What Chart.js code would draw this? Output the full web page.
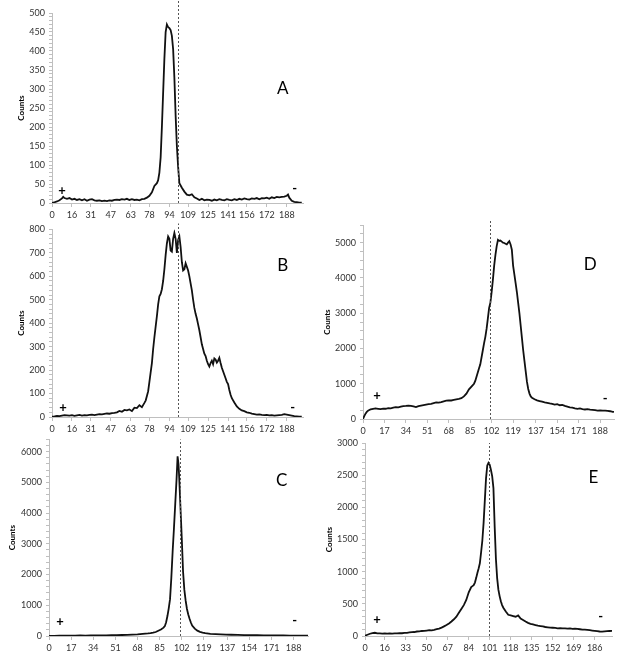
<!DOCTYPE html>
<html>
<head>
<meta charset="utf-8">
<script src="https://cdn.jsdelivr.net/npm/chart.js@4.4.0/dist/chart.umd.min.js"></script>
<style>
  body { margin: 0; background: #fff; }
  #fig { position: relative; width: 624px; height: 662px; }
  canvas { position: absolute; }
</style>
</head>
<body>
<div id="fig">
  <canvas id="chartA" width="310" height="222" style="left:0;top:0"></canvas>
  <canvas id="chartB" width="310" height="222" style="left:0;top:220px"></canvas>
  <canvas id="chartC" width="310" height="232" style="left:0;top:430px"></canvas>
  <canvas id="chartD" width="314" height="222" style="left:310px;top:215px"></canvas>
  <canvas id="chartE" width="314" height="232" style="left:310px;top:430px"></canvas>
</div>
<script>
// profiles as [position, counts]
const profileA = [[0,0],[2,2],[4,4],[6,7],[8,12],[9,16],[10,13],[12,11],[14,13],[16,9],[18,11],[20,8],[22,10],[24,7],[26,10],[28,6],[30,9],[32,10],[34,7],[36,6],[38,7],[40,5],[42,6],[44,5],[46,7],[48,6],[50,8],[52,9],[54,8],[56,10],[58,9],[60,11],[62,8],[64,10],[66,8],[68,9],[70,7],[72,10],[74,11],[76,14],[78,19],[80,28],[82,45],[84,52],[85,60],[86,80],[87,120],[88,200],[89,290],[90,380],[91,450],[92,470],[93,463],[94,460],[95,455],[96,440],[97,405],[98,330],[99,230],[100,150],[101,95],[102,52],[103,46],[104,40],[106,30],[108,22],[110,20],[112,23],[114,15],[116,12],[118,8],[120,11],[122,7],[124,9],[126,8],[128,6],[130,9],[132,7],[134,10],[136,8],[138,7],[140,10],[142,8],[144,7],[146,10],[148,8],[150,11],[152,9],[154,12],[156,10],[158,9],[160,12],[162,11],[164,13],[166,10],[168,13],[170,12],[172,14],[174,11],[176,15],[178,13],[180,16],[182,15],[184,16],[186,17],[188,19],[189,22],[190,14],[192,6],[194,3],[196,2],[198,1],[200,1]];

const profileB = [[0,2],[2,3],[4,5],[6,4],[8,6],[10,8],[12,7],[14,6],[16,8],[18,5],[20,7],[22,9],[24,6],[26,8],[28,7],[30,9],[32,10],[34,8],[36,10],[38,12],[40,11],[42,13],[44,15],[46,14],[48,17],[50,18],[52,20],[54,26],[56,22],[58,30],[60,28],[62,32],[64,25],[66,40],[68,38],[70,50],[72,42],[74,60],[75,70],[76,90],[77,110],[78,150],[79,190],[80,230],[81,290],[82,340],[83,385],[84,430],[85,480],[86,515],[87,525],[88,545],[89,580],[90,630],[91,690],[92,740],[93,770],[94,760],[95,710],[96,705],[97,760],[98,785],[99,760],[100,700],[101,755],[102,770],[103,725],[104,660],[105,625],[106,630],[107,655],[108,640],[109,625],[110,600],[111,570],[112,540],[113,500],[114,465],[115,440],[116,420],[117,395],[118,370],[119,340],[120,310],[121,290],[122,270],[123,260],[124,240],[125,225],[126,215],[127,230],[128,240],[129,225],[130,250],[131,245],[132,232],[133,240],[134,252],[135,230],[136,210],[137,195],[138,180],[139,165],[140,150],[141,140],[142,115],[143,95],[144,80],[146,62],[148,45],[150,35],[152,28],[154,25],[156,20],[158,18],[160,14],[162,12],[164,10],[166,11],[168,9],[170,8],[172,9],[174,7],[176,8],[178,6],[180,7],[182,8],[184,9],[186,12],[188,10],[190,8],[192,6],[194,4],[196,3],[198,2],[200,2]];

const profileC = [[0,0],[4,5],[8,10],[12,12],[16,15],[20,14],[24,16],[28,15],[32,18],[36,17],[40,20],[44,22],[48,25],[52,28],[56,32],[60,38],[64,45],[68,55],[72,70],[76,85],[78,95],[80,110],[82,130],[84,170],[86,210],[88,270],[89,320],[90,450],[91,650],[92,900],[93,1200],[94,1900],[95,2750],[96,3500],[97,4300],[98,5100],[98.8,5850],[99.5,5600],[100,5200],[101,4200],[102,3200],[103,2100],[104,1500],[105,1150],[106,880],[107,700],[108,560],[109,440],[110,340],[112,240],[114,175],[116,135],[118,110],[120,90],[124,70],[128,60],[132,52],[136,45],[140,40],[145,35],[150,30],[155,28],[160,25],[165,22],[170,20],[175,18],[180,16],[185,15],[190,14],[195,12],[199,10]];

const profileD = [[0,0],[1,80],[2,150],[3,200],[4,235],[5,255],[6,270],[8,285],[10,300],[12,290],[14,280],[16,295],[18,290],[20,310],[22,300],[24,320],[26,335],[28,330],[30,350],[32,365],[34,370],[36,380],[38,375],[40,360],[42,340],[44,365],[46,380],[48,395],[50,410],[52,420],[54,430],[56,450],[58,470],[60,465],[62,480],[64,500],[66,520],[68,530],[70,525],[72,540],[74,555],[76,570],[78,590],[80,640],[82,720],[84,840],[86,920],[88,1000],[89,1080],[90,1200],[91,1320],[92,1440],[93,1550],[94,1750],[95,1950],[96,2150],[97,2330],[98,2560],[99,2850],[100,3150],[101,3300],[102,3600],[103,3950],[104,4350],[105,4650],[106,4900],[107,5080],[108,5050],[109,5060],[110,5030],[111,5000],[112,4990],[113,4970],[114,4950],[115,5000],[116,5040],[117,4950],[118,4800],[119,4350],[120,4100],[121,3850],[122,3600],[123,3300],[124,3000],[125,2650],[126,2300],[127,1950],[128,1650],[129,1350],[130,1050],[131,850],[132,720],[133,640],[134,600],[136,560],[138,530],[140,510],[142,490],[144,470],[146,460],[148,440],[150,430],[152,410],[154,420],[156,390],[158,400],[160,370],[162,350],[164,330],[166,320],[168,300],[170,290],[172,300],[174,280],[176,270],[178,280],[180,265],[182,260],[184,250],[186,240],[188,245],[190,235],[192,240],[194,230],[196,220],[198,205],[199,200]];

const profileE = [[0,5],[2,20],[4,35],[6,45],[8,50],[10,42],[12,40],[14,38],[16,42],[18,36],[20,40],[22,38],[24,42],[26,40],[28,45],[30,43],[32,48],[34,50],[36,55],[38,60],[40,62],[42,70],[44,72],[46,78],[48,80],[50,85],[52,90],[54,88],[56,95],[58,105],[60,115],[62,130],[64,150],[66,170],[68,195],[70,225],[72,260],[74,300],[76,360],[78,420],[80,480],[82,560],[84,680],[86,760],[87,775],[88,790],[89,830],[90,900],[91,980],[92,1050],[93,1130],[94,1300],[95,1480],[96,1750],[97,2100],[98,2450],[99,2650],[100,2690],[101,2660],[102,2580],[103,2480],[104,2300],[105,1700],[106,1200],[107,900],[108,720],[109,620],[110,540],[111,480],[112,440],[114,380],[116,330],[118,320],[120,310],[122,300],[124,320],[126,270],[128,250],[130,225],[132,205],[134,190],[136,180],[138,170],[140,160],[142,155],[144,150],[146,140],[148,135],[150,130],[152,128],[154,125],[156,120],[158,122],[160,118],[162,120],[164,115],[166,118],[168,112],[170,115],[172,110],[174,105],[176,100],[178,98],[180,95],[182,90],[184,85],[186,80],[188,75],[190,70],[192,68],[194,72],[196,75],[198,78],[200,80]];

// x tick labels
const xTicksAB = [0, 16, 31, 47, 63, 78, 94, 109, 125, 141, 156, 172, 188];
const xTicksCD = [0, 17, 34, 51, 68, 85, 102, 119, 137, 154, 171, 188];
const xTicksE = [0, 16, 33, 50, 67, 84, 101, 118, 135, 152, 169, 186];

// reference position (dashed line)
const refPosition = 100.5;

const FONT = 'Lato';
const AXIS_GREY = '#bfbfbf';

const panelMarks = {
  id: 'panelMarks',
  afterDatasetsDraw(chart, args, opts) {
    const { ctx, scales: { x, y } } = chart;
    ctx.save();
    const px = Math.round(x.getPixelForValue(refPosition)) + 0.5;
    ctx.strokeStyle = '#555';
    ctx.lineWidth = 1;
    ctx.setLineDash([2, 2]);
    ctx.beginPath();
    ctx.moveTo(px, y.getPixelForValue(0));
    ctx.lineTo(px, y.getPixelForValue(opts.lineTop));
    ctx.stroke();
    ctx.setLineDash([]);

    ctx.fillStyle = '#000';
    ctx.textAlign = 'center';
    ctx.textBaseline = 'middle';
    ctx.font = '17px ' + FONT;
    ctx.fillText(opts.letter, x.getPixelForValue(opts.letterAt[0]), y.getPixelForValue(opts.letterAt[1]));
    ctx.font = 'bold 13px ' + FONT;
    ctx.fillText('+', x.getPixelForValue(opts.plusAt[0]), y.getPixelForValue(opts.plusAt[1]));
    ctx.fillText('-', x.getPixelForValue(opts.minusAt[0]), y.getPixelForValue(opts.minusAt[1]));
    ctx.restore();
  }
};

const panels = [
  { id: 'chartA', letter: 'A', points: profileA, xTicks: xTicksAB, xMax: 201, yMax: 500, yMajor: 50, yMinor: 10,
    pad: { left: 0, top: 13, right: 7, bottom: 0 }, yAxisW: 52, xAxisH: 19, titlePad: 17,
    lineTop: 534, letterAt: [184.8, 300], plusAt: [8, 32], minusAt: [194.4, 37] },
  { id: 'chartB', letter: 'B', points: profileB, xTicks: xTicksAB, xMax: 201, yMax: 800, yMajor: 100, yMinor: 20,
    pad: { left: 0, top: 8, right: 7, bottom: 0 }, yAxisW: 52, xAxisH: 25, titlePad: 17,
    lineTop: 825, letterAt: [184.8, 648], plusAt: [8.8, 38], minusAt: [192.8, 38] },
  { id: 'chartC', letter: 'C', points: profileC, xTicks: xTicksCD, xMax: 199, yMax: 6400, yMajor: 1000, yMinor: 200,
    pad: { left: 0, top: 8, right: 2, bottom: 0 }, yAxisW: 49, xAxisH: 26, titlePad: 8,
    lineTop: 6400, letterAt: [178.8, 5065], plusAt: [8.4, 450], minusAt: [188.8, 480] },
  { id: 'chartD', letter: 'D', points: profileD, xTicks: xTicksCD, xMax: 199, yMax: 5500, yMajor: 1000, yMinor: 250,
    pad: { left: 0, top: 10, right: 10, bottom: 0 }, yAxisW: 53, xAxisH: 18, titlePad: 13,
    lineTop: 5640, letterAt: [180.2, 4375], plusAt: [11.1, 650], minusAt: [192, 570] },
  { id: 'chartE', letter: 'E', points: profileE, xTicks: xTicksE, xMax: 200, yMax: 3000, yMajor: 500, yMinor: 100,
    pad: { left: 0, top: 13, right: 12, bottom: 0 }, yAxisW: 55, xAxisH: 26, titlePad: 15,
    lineTop: 3000, letterAt: [185, 2465], plusAt: [9.7, 250], minusAt: [190.8, 300] }
];

panels.forEach(p => {
  new Chart(document.getElementById(p.id), {
    type: 'line',
    data: {
      datasets: [{
        data: p.points.map(([x, y]) => ({ x, y })),
        borderColor: '#111',
        borderWidth: 1.8,
        pointRadius: 0,
        tension: 0
      }]
    },
    options: {
      responsive: false,
      animation: false,
      layout: { padding: p.pad },
      plugins: {
        legend: { display: false },
        tooltip: { enabled: false },
        panelMarks: { letter: p.letter, lineTop: p.lineTop, letterAt: p.letterAt, plusAt: p.plusAt, minusAt: p.minusAt }
      },
      scales: {
        x: {
          type: 'linear',
          min: 0,
          max: p.xMax,
          afterBuildTicks: s => { s.ticks = p.xTicks.map(v => ({ value: v })); },
          afterFit: s => { s.height = p.xAxisH; },
          ticks: { autoSkip: false, maxRotation: 0, padding: 3, color: '#333', font: { family: FONT, size: 9 }, callback: v => String(v) },
          grid: { drawOnChartArea: false, color: AXIS_GREY, tickLength: 4 },
          border: { color: AXIS_GREY }
        },
        y: {
          min: 0,
          max: p.yMax,
          afterFit: s => { s.width = p.yAxisW; },
          ticks: {
            stepSize: p.yMinor,
            autoSkip: false,
            maxTicksLimit: 100,
            padding: 4,
            color: '#333',
            font: { family: FONT, size: 9 },
            callback: v => (v % p.yMajor === 0 ? String(v) : '')
          },
          grid: { drawOnChartArea: false, color: AXIS_GREY, tickLength: 3 },
          border: { color: AXIS_GREY },
          title: {
            display: true,
            text: 'Counts',
            color: '#000',
            font: { family: FONT, size: 8, weight: 'bold' },
            padding: { top: p.titlePad, bottom: 0 }
          }
        }
      }
    },
    plugins: [panelMarks]
  });
});
</script>
</body>
</html>
